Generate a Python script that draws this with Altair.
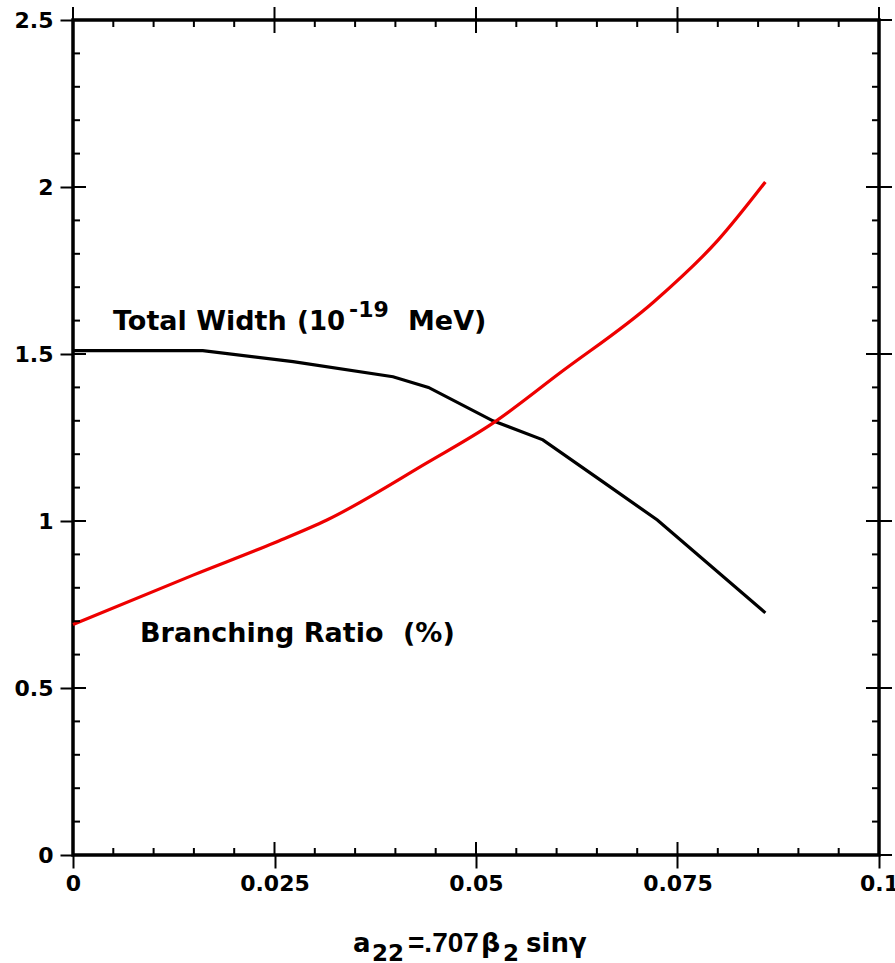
import altair as alt
import pandas as pd

# ---- data ----
x_total = [0.0, 0.0161, 0.0273, 0.0397, 0.0441, 0.0521, 0.0583, 0.0654, 0.0725, 0.0859]
total_width = [1.51, 1.51, 1.477, 1.432, 1.40, 1.30, 1.243, 1.123, 1.003, 0.725]

x_branch = [0.0, 0.0149, 0.025, 0.0315, 0.0439, 0.0521, 0.0604, 0.072, 0.080, 0.0859]
branching = [0.69, 0.838, 0.935, 1.003, 1.174, 1.293, 1.443, 1.655, 1.84, 2.015]

x_major = [0, 0.025, 0.05, 0.075, 0.1]
x_minor = [0.005, 0.01, 0.015, 0.02, 0.03, 0.035, 0.04, 0.045, 0.055, 0.06,
           0.065, 0.07, 0.08, 0.085, 0.09, 0.095]
y_major = [0, 0.5, 1, 1.5, 2, 2.5]
y_minor = [0.1, 0.2, 0.3, 0.4, 0.6, 0.7, 0.8, 0.9, 1.1, 1.2, 1.3, 1.4,
           1.6, 1.7, 1.8, 1.9, 2.1, 2.2, 2.3, 2.4]

label_total = ["Total Width", "(10", "-19", "MeV)"]
label_branch = ["Branching Ratio", "(%)"]
xtitle_parts = ["a", "22", "=.707", "β", "2", "sinγ"]

# ---- layout ----
W, H = 806, 835
FONT = "DejaVu Sans"
FONT2 = "Liberation Sans"

XS = alt.Scale(domain=[0, 0.1], nice=False, zero=False)
YS = alt.Scale(domain=[0, 2.5], nice=False, zero=False)
XAX = alt.Axis(values=x_major, labelExpr="'' + datum.value", tickSize=13, tickWidth=2,
               tickColor="black", domain=False, grid=False, labelFont=FONT,
               labelFontWeight="bold", labelFontSize=22, labelColor="black",
               labelPadding=5, labelFlush=False, labelOverlap=False, title=None)
YAX = alt.Axis(values=y_major, labelExpr="'' + datum.value", tickSize=13, tickWidth=2,
               tickColor="black", domain=False, grid=False, labelFont=FONT,
               labelFontWeight="bold", labelFontSize=22, labelColor="black",
               labelPadding=7, labelFlush=False, labelOverlap=False, title=None)

df_total = pd.DataFrame({"x": x_total, "y": total_width})
df_branch = pd.DataFrame({"x": x_branch, "y": branching})

line_total = alt.Chart(df_total).mark_line(color="black", strokeWidth=3.2).encode(
    x=alt.X("x:Q", scale=XS, axis=XAX), y=alt.Y("y:Q", scale=YS, axis=YAX))
line_branch = alt.Chart(df_branch).mark_line(color="#ee0000", strokeWidth=3.2,
                                             interpolate="monotone").encode(
    x=alt.X("x:Q", scale=XS, axis=XAX), y=alt.Y("y:Q", scale=YS, axis=YAX))


def yrules(vals, a, b):
    return alt.Chart(pd.DataFrame({"v": vals})).mark_rule(color="black", strokeWidth=2).encode(
        y=alt.Y("v:Q", scale=YS, axis=YAX), x=alt.value(a), x2=alt.value(b))


def xrules(vals, a, b):
    return alt.Chart(pd.DataFrame({"v": vals})).mark_rule(color="black", strokeWidth=2).encode(
        x=alt.X("v:Q", scale=XS, axis=XAX), y=alt.value(a), y2=alt.value(b))


ticks = [
    yrules(y_major, 0, 13), yrules(y_minor, 0, 7),
    yrules(y_major, W - 13, W + 13), yrules(y_minor, W - 7, W),
    xrules(x_major, H - 13, H), xrules(x_minor, H - 7, H),
    xrules(x_major, -13, 13), xrules(x_minor, 0, 7),
]


def txt(s, px, py, size=27, font=FONT):
    return alt.Chart(pd.DataFrame({"t": [s]})).mark_text(
        font=font, fontWeight="bold", fontSize=size, align="left",
        baseline="alphabetic", color="black").encode(
        text="t:N", x=alt.value(px), y=alt.value(py))


texts = [
    txt(label_total[0], 40, 310),
    txt(label_total[1], 224, 310, 26),
    txt(label_total[2], 276, 297, 22),
    txt(label_total[3], 335, 310),
    txt(label_branch[0], 67, 622),
    txt(label_branch[1], 330, 622),
    txt(xtitle_parts[0], 280, 932, 26),
    txt(xtitle_parts[1], 299, 941, 23),
    txt(xtitle_parts[2], 335, 932, 28, FONT2),
    txt(xtitle_parts[3], 408, 932, 27),
    txt(xtitle_parts[4], 430, 941, 23),
    txt(xtitle_parts[5], 453, 932, 26),
]

chart = alt.layer(line_total, line_branch, *ticks, *texts).properties(
    width=W, height=H,
    autosize=alt.AutoSizeParams(type="none"),
    padding={"left": 73, "top": 20, "right": 16, "bottom": 108},
    background="white",
).configure_view(stroke="black", strokeWidth=3.5)

chart.save("out.html", embed_options={"renderer": "svg", "actions": False})
